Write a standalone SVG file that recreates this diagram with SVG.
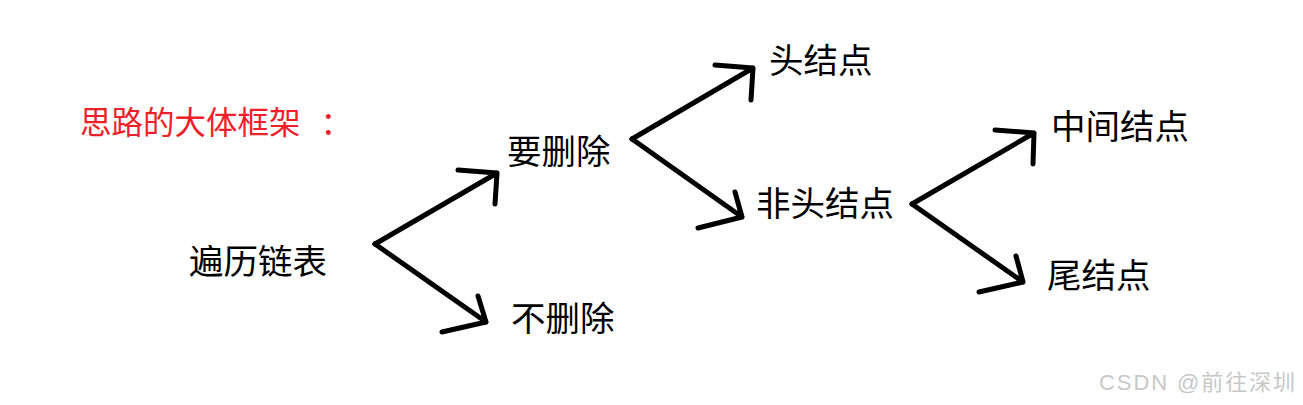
<svg xmlns="http://www.w3.org/2000/svg" width="1303" height="405" viewBox="0 0 1303 405">
<style>
.t{font-family:"Noto Sans CJK SC","Microsoft YaHei",sans-serif;font-size:34.5px;fill:#000}
.r{font-family:"Noto Sans CJK SC",sans-serif;font-size:31.5px;fill:#f0202a}
.w{font-family:"Liberation Sans","Noto Sans CJK SC",sans-serif;font-size:22px;fill:#c8c8c8}
.c{fill:none;stroke:#000;stroke-width:5;stroke-linecap:round;stroke-linejoin:round}
</style>
<rect width="1303" height="405" fill="#fff"/>
<g id="title"><text class="r" x="80" y="134">思路的大体框架<tspan dx="20">：</tspan></text></g>
<g id="n-traverse"><text class="t" x="189" y="274">遍历链表</text></g>
<g id="n-delete"><text class="t" x="507" y="164">要删除</text></g>
<g id="n-nodelete"><text class="t" x="511" y="331">不删除</text></g>
<g id="n-head"><text class="t" x="769" y="73">头结点</text></g>
<g id="n-nonhead"><text class="t" x="756" y="216">非头结点</text></g>
<g id="n-middle"><text class="t" x="1051" y="139">中间结点</text></g>
<g id="n-tail"><text class="t" x="1047" y="288">尾结点</text></g>
<g id="connectors">
<path class="c" d="M375 244 L497 173 M458 170 L497 173 L495 204"/>
<path class="c" d="M375 244 L486 322 M478 296 L486 322 L442 332"/>
<path class="c" d="M632 139 L753 68 M715 65 L753 68 L751 100"/>
<path class="c" d="M632 139 L742 217 M735 192 L742 217 L698 228"/>
<path class="c" d="M912 204 L1034 133 M995 130 L1034 133 L1033 164"/>
<path class="c" d="M912 204 L1023 282 M1016 256 L1023 282 L979 292"/>
</g>
<g id="watermark"><text class="w" x="1099" y="390" textLength="196">CSDN @前往深圳</text></g>
</svg>
